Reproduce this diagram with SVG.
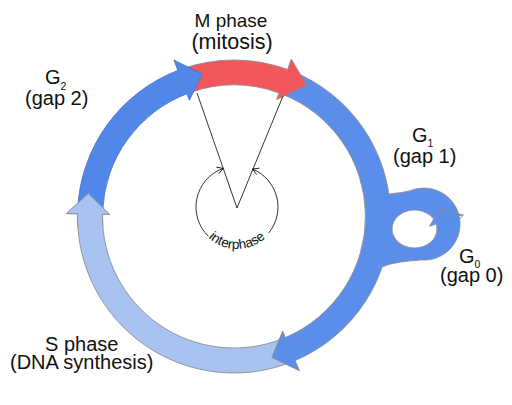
<svg xmlns="http://www.w3.org/2000/svg" width="512" height="405" viewBox="0 0 512 405">
<style>
text{font-family:"Liberation Sans",Arial,sans-serif;fill:#111;}
.lbl{font-size:20px;}
.sub{font-size:10.5px;}
.edge{stroke:#8f8f8f;stroke-width:0.9;stroke-linejoin:miter;}
.blue{fill:#5B8DEA;}
.blue2{fill:#5087E8;}
.red{fill:#F2575B;}
.light{fill:#A8C2F2;}
.thin{fill:none;stroke:#000;stroke-width:0.8;}
</style>
<defs>
<marker id="chev" viewBox="-8 -5 10 10" markerWidth="10" markerHeight="10" refX="0" refY="0" orient="auto" markerUnits="userSpaceOnUse">
<path d="M-6,-3.5 L0,0 L-6,3.5" fill="none" stroke="#000" stroke-width="0.8"/>
</marker>
<path id="interPath" d="M196.43,217.87 A42,42 0 0 0 277.57,217.87"/>
</defs>
<rect width="512" height="405" fill="#fff"/>

<g id="connectors">
<path id="s-arrow" class="light edge" d="M291.36,362.11 A156.5,156.5 0 0 1 77.52,213.77 L66.53,213.58 L88.32,193.43 L109.52,214.33 L102.52,214.21 A131.5,131.5 0 0 0 282.19,338.85 Z"/>
<path id="g1-arrow" class="blue edge" d="M291.36,70.89 A156.5,156.5 0 0 1 295.15,360.56 L299.45,370.68 L271.79,357.53 L282.65,331.10 L285.38,337.55 A131.5,131.5 0 0 0 282.19,94.15 Z"/>
<g id="g0-loop">
<path class="blue" fill-rule="evenodd" d="M372,194 L389,194 C396,192.8 404.2,192.9 411.7,190.2 A36,36 0 1 1 420.9,259.9 C410,261 392,262 382,267 L372,267 Z M392,229 A22.5,19 0 1 0 437,229 A22.5,19 0 1 0 392,229 Z"/>
<path class="edge" fill="none" d="M389,194 C396,192.8 404.2,192.9 411.7,190.2 A36,36 0 1 1 420.9,259.9 C410,261 392,262 382,267"/>
<path class="edge" fill="none" d="M392,229 A22.5,19 0 1 0 437,229 A22.5,19 0 1 0 392,229 Z"/>
<path class="blue" d="M429.3,226.7 L439.3,209 L463.5,215 Z"/>
<path class="edge" fill="none" d="M429.3,226.7 L439.3,209 L463.5,215 L459.5,219.5"/>
</g>
<path id="m-arrow" class="red edge" d="M181.76,68.98 A156.5,156.5 0 0 1 287.53,69.44 L291.29,59.10 L306.72,85.31 L276.58,99.51 L278.98,92.93 A131.5,131.5 0 0 0 190.10,92.54 Z"/>
<path id="g2-arrow" class="blue2" stroke="#4776CF" stroke-width="0.9" d="M77.65,209.67 A156.5,156.5 0 0 1 177.92,70.40 L173.97,60.13 L202.40,73.96 L189.38,100.27 L186.87,93.73 A131.5,131.5 0 0 0 102.62,210.76 Z"/>
<g id="s-head">
<path class="light" d="M77.88,227.42 A156.5,156.5 0 0 1 77.52,213.77 L66.53,213.58 L88.32,193.43 L109.52,214.33 L102.52,214.21 A131.5,131.5 0 0 0 102.82,225.67 Z"/>
<path class="edge" fill="none" d="M77.88,227.42 A156.5,156.5 0 0 1 77.52,213.77 L66.53,213.58 L88.32,193.43 L109.52,214.33 L102.52,214.21 A131.5,131.5 0 0 0 102.82,225.67"/>
</g>
<polyline id="v-lines" class="thin" points="197,93 237,208 283,96"/>
<path id="inter-left" class="thin" marker-end="url(#chev)" d="M208.52,236.49 A41,41 0 0 1 223.18,168.40"/>
<path id="inter-right" class="thin" marker-end="url(#chev)" d="M268.6,233.1 A41,41 0 0 0 252.56,169.07"/>
</g>

<g id="interphase">
<text font-size="13.5"><textPath href="#interPath" startOffset="50%" text-anchor="middle">interphase</textPath></text>
</g>
<g id="m-phase">
<text x="231" y="26.5" font-size="19" text-anchor="middle">M phase</text>
<text x="232" y="49" font-size="21.5" text-anchor="middle">(mitosis)</text>
</g>
<g id="g2">
<text class="lbl" x="45" y="84">G<tspan class="sub" dy="6">2</tspan></text>
<text class="lbl" x="25" y="105">(gap 2)</text>
</g>
<g id="g1">
<text class="lbl" x="412" y="142">G<tspan class="sub" dy="5">1</tspan></text>
<text class="lbl" x="393" y="162.5">(gap 1)</text>
</g>
<g id="g0">
<text class="lbl" x="459" y="263">G<tspan class="sub" dy="5">0</tspan></text>
<text class="lbl" x="440" y="282">(gap 0)</text>
</g>
<g id="s-phase">
<text class="lbl" x="45" y="350.5">S phase</text>
<text class="lbl" x="10" y="369">(DNA synthesis)</text>
</g>
</svg>
